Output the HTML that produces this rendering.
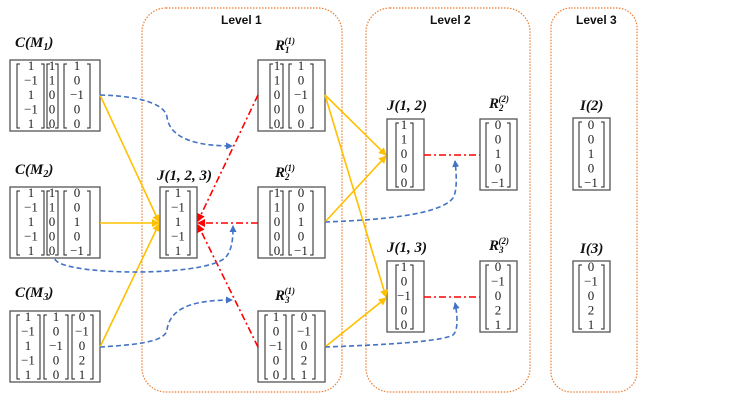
<!DOCTYPE html>
<html><head><meta charset="utf-8"><style>
html,body{margin:0;padding:0;background:#fff}
svg{display:block}
.m{font-family:"Liberation Serif",serif;font-size:13px;fill:#222;text-anchor:middle}
.lb{font-family:"Liberation Serif",serif;font-size:15px;font-weight:bold;font-style:italic;fill:#111}
.lv{font-family:"Liberation Sans",sans-serif;font-size:12px;font-weight:bold;fill:#111}
.bx{fill:#fff;stroke:#555;stroke-width:1.3}
.br{fill:none;stroke:#222;stroke-width:1}
.fr{fill:none;stroke:#ed7d31;stroke-width:1.2;stroke-dasharray:1.5 1.5}
.y{stroke:#ffc000;stroke-width:1.6;fill:none}
.r{stroke:#ff0000;stroke-width:1.6;fill:none;stroke-dasharray:7 3 2 3}
.b{stroke:#4472c4;stroke-width:1.6;fill:none;stroke-dasharray:5 3}
</style></head><body>
<svg width="734" height="413" viewBox="0 0 734 413" xmlns="http://www.w3.org/2000/svg">
<defs>
<marker id="ay" markerWidth="8" markerHeight="8" refX="7" refY="4" orient="auto" markerUnits="userSpaceOnUse"><path d="M0,0 L8,4 L0,8 z" fill="#ffc000"/></marker>
<marker id="ar" markerWidth="8" markerHeight="8" refX="7" refY="4" orient="auto" markerUnits="userSpaceOnUse"><path d="M0,0 L8,4 L0,8 z" fill="#ff0000"/></marker>
<marker id="ab" markerWidth="7" markerHeight="7" refX="6" refY="3.5" orient="auto" markerUnits="userSpaceOnUse"><path d="M0,0 L7,3.5 L0,7 z" fill="#4472c4"/></marker>
</defs>

<rect class="fr" x="142" y="8" width="200" height="384" rx="24"/>
<rect class="fr" x="366" y="8" width="164" height="384" rx="24"/>
<rect class="fr" x="551" y="8" width="86" height="384" rx="20"/>
<text class="lv" x="221" y="24">Level 1</text>
<text class="lv" x="430" y="24">Level 2</text>
<text class="lv" x="576" y="24">Level 3</text>

<text class="lb" x="15" y="47">C(M<tspan font-size="10" dy="3">1</tspan><tspan dy="-3">)</tspan></text>
<text class="lb" x="15" y="174">C(M<tspan font-size="10" dy="3">2</tspan><tspan dy="-3">)</tspan></text>
<text class="lb" x="15" y="297">C(M<tspan font-size="10" dy="3">3</tspan><tspan dy="-3">)</tspan></text>
<text class="lb" x="157" y="180">J(1, 2, 3)</text>
<text class="lb" x="275" y="50">R<tspan font-size="9" dy="3">1</tspan><tspan font-size="9" dx="-5" dy="-9">(1)</tspan></text>
<text class="lb" x="275" y="177">R<tspan font-size="9" dy="3">2</tspan><tspan font-size="9" dx="-5" dy="-9">(1)</tspan></text>
<text class="lb" x="275" y="300">R<tspan font-size="9" dy="3">3</tspan><tspan font-size="9" dx="-5" dy="-9">(1)</tspan></text>
<text class="lb" x="387" y="110">J(1, 2)</text>
<text class="lb" x="489" y="108">R<tspan font-size="9" dy="3">2</tspan><tspan font-size="9" dx="-5" dy="-9">(2)</tspan></text>
<text class="lb" x="387" y="252">J(1, 3)</text>
<text class="lb" x="489" y="250">R<tspan font-size="9" dy="3">3</tspan><tspan font-size="9" dx="-5" dy="-9">(2)</tspan></text>
<text class="lb" x="580" y="110">I(2)</text>
<text class="lb" x="580" y="253">I(3)</text>

<rect class="bx" x="10" y="60" width="90" height="71"/>
<rect class="bx" x="10" y="187" width="90" height="71"/>
<rect class="bx" x="10" y="311" width="90" height="71"/>
<rect class="bx" x="160" y="187" width="37" height="71"/>
<rect class="bx" x="258" y="60" width="67" height="71"/>
<rect class="bx" x="258" y="187" width="67" height="71"/>
<rect class="bx" x="258" y="311" width="67" height="71"/>
<rect class="bx" x="387" y="119" width="37" height="71"/>
<rect class="bx" x="480" y="119" width="37" height="71"/>
<rect class="bx" x="387" y="261" width="37" height="71"/>
<rect class="bx" x="480" y="261" width="37" height="71"/>
<rect class="bx" x="573" y="118" width="37" height="72"/>
<rect class="bx" x="573" y="261" width="37" height="71"/>

<g class="br">
<path d="M20 64H17V128H20M41 64H44V128H41M50 64H47V128H50M55 64H58V128H55M67 64H64V128H67M87 64H90V128H87"/>
<path d="M20 191H17V255H20M41 191H44V255H41M50 191H47V255H50M55 191H58V255H55M67 191H64V255H67M87 191H90V255H87"/>
<path d="M20 315H17V379H20M37 315H40V379H37M47 315H44V379H47M65 315H68V379H65M75 315H72V379H75M90 315H93V379H90"/>
<path d="M169 191H166V255H169M187 191H190V255H187"/>
<path d="M273 64H270V128H273M280 64H283V128H280M292 64H289V128H292M310 64H313V128H310"/>
<path d="M273 191H270V255H273M280 191H283V255H280M292 191H289V255H292M310 191H313V255H310"/>
<path d="M268 315H265V379H268M283 315H286V379H283M295 315H292V379H295M312 315H315V379H312"/>
<path d="M399 123H396V187H399M410 123H413V187H410"/>
<path d="M489 123H486V187H489M507 123H510V187H507"/>
<path d="M399 265H396V329H399M410 265H413V329H410"/>
<path d="M489 265H486V329H489M507 265H510V329H507"/>
<path d="M582 122H579V187H582M601 122H604V187H601"/>
<path d="M582 265H579V329H582M601 265H604V329H601"/>
</g>

<g class="m" transform="translate(0,-2)">
<text><tspan x="31" y="72">1</tspan><tspan x="31" y="86.5">−1</tspan><tspan x="31" y="101">1</tspan><tspan x="31" y="115.5">−1</tspan><tspan x="31" y="130">1</tspan></text>
<text><tspan x="52" y="72">1</tspan><tspan x="52" y="86.5">1</tspan><tspan x="52" y="101">0</tspan><tspan x="52" y="115.5">0</tspan><tspan x="52" y="130">0</tspan></text>
<text><tspan x="77" y="72">1</tspan><tspan x="77" y="86.5">0</tspan><tspan x="77" y="101">−1</tspan><tspan x="77" y="115.5">0</tspan><tspan x="77" y="130">0</tspan></text>

<text><tspan x="31" y="199">1</tspan><tspan x="31" y="213.5">−1</tspan><tspan x="31" y="228">1</tspan><tspan x="31" y="242.5">−1</tspan><tspan x="31" y="257">1</tspan></text>
<text><tspan x="52" y="199">1</tspan><tspan x="52" y="213.5">1</tspan><tspan x="52" y="228">0</tspan><tspan x="52" y="242.5">0</tspan><tspan x="52" y="257">0</tspan></text>
<text><tspan x="77" y="199">0</tspan><tspan x="77" y="213.5">0</tspan><tspan x="77" y="228">1</tspan><tspan x="77" y="242.5">0</tspan><tspan x="77" y="257">−1</tspan></text>

<text><tspan x="28" y="323">1</tspan><tspan x="28" y="337.5">−1</tspan><tspan x="28" y="352">1</tspan><tspan x="28" y="366.5">−1</tspan><tspan x="28" y="381">1</tspan></text>
<text><tspan x="56" y="323">1</tspan><tspan x="56" y="337.5">0</tspan><tspan x="56" y="352">−1</tspan><tspan x="56" y="366.5">0</tspan><tspan x="56" y="381">0</tspan></text>
<text><tspan x="82" y="323">0</tspan><tspan x="82" y="337.5">−1</tspan><tspan x="82" y="352">0</tspan><tspan x="82" y="366.5">2</tspan><tspan x="82" y="381">1</tspan></text>

<text><tspan x="178" y="199">1</tspan><tspan x="178" y="213.5">−1</tspan><tspan x="178" y="228">1</tspan><tspan x="178" y="242.5">−1</tspan><tspan x="178" y="257">1</tspan></text>

<text><tspan x="277" y="72">1</tspan><tspan x="277" y="86.5">1</tspan><tspan x="277" y="101">0</tspan><tspan x="277" y="115.5">0</tspan><tspan x="277" y="130">0</tspan></text>
<text><tspan x="301" y="72">1</tspan><tspan x="301" y="86.5">0</tspan><tspan x="301" y="101">−1</tspan><tspan x="301" y="115.5">0</tspan><tspan x="301" y="130">0</tspan></text>

<text><tspan x="277" y="199">1</tspan><tspan x="277" y="213.5">1</tspan><tspan x="277" y="228">0</tspan><tspan x="277" y="242.5">0</tspan><tspan x="277" y="257">0</tspan></text>
<text><tspan x="301" y="199">0</tspan><tspan x="301" y="213.5">0</tspan><tspan x="301" y="228">1</tspan><tspan x="301" y="242.5">0</tspan><tspan x="301" y="257">−1</tspan></text>

<text><tspan x="276" y="323">1</tspan><tspan x="276" y="337.5">0</tspan><tspan x="276" y="352">−1</tspan><tspan x="276" y="366.5">0</tspan><tspan x="276" y="381">0</tspan></text>
<text><tspan x="304" y="323">0</tspan><tspan x="304" y="337.5">−1</tspan><tspan x="304" y="352">0</tspan><tspan x="304" y="366.5">2</tspan><tspan x="304" y="381">1</tspan></text>

<text><tspan x="404" y="131">1</tspan><tspan x="404" y="145.5">1</tspan><tspan x="404" y="160">0</tspan><tspan x="404" y="174.5">0</tspan><tspan x="404" y="189">0</tspan></text>
<text><tspan x="498" y="131">0</tspan><tspan x="498" y="145.5">0</tspan><tspan x="498" y="160">1</tspan><tspan x="498" y="174.5">0</tspan><tspan x="498" y="189">−1</tspan></text>
<text><tspan x="404" y="273">1</tspan><tspan x="404" y="287.5">0</tspan><tspan x="404" y="302">−1</tspan><tspan x="404" y="316.5">0</tspan><tspan x="404" y="331">0</tspan></text>
<text><tspan x="498" y="273">0</tspan><tspan x="498" y="287.5">−1</tspan><tspan x="498" y="302">0</tspan><tspan x="498" y="316.5">2</tspan><tspan x="498" y="331">1</tspan></text>
<text><tspan x="591" y="131">0</tspan><tspan x="591" y="145.5">0</tspan><tspan x="591" y="160">1</tspan><tspan x="591" y="174.5">0</tspan><tspan x="591" y="189">−1</tspan></text>
<text><tspan x="591" y="273">0</tspan><tspan x="591" y="287.5">−1</tspan><tspan x="591" y="302">0</tspan><tspan x="591" y="316.5">2</tspan><tspan x="591" y="331">1</tspan></text>
</g>

<line class="y" x1="100" y1="95" x2="159" y2="222" marker-end="url(#ay)"/>
<line class="y" x1="100" y1="223" x2="159" y2="223" marker-end="url(#ay)"/>
<line class="y" x1="100" y1="347" x2="159" y2="224" marker-end="url(#ay)"/>
<line class="y" x1="325" y1="95" x2="386" y2="155" marker-end="url(#ay)"/>
<line class="y" x1="325" y1="95" x2="386" y2="297" marker-end="url(#ay)"/>
<line class="y" x1="325" y1="222" x2="386" y2="156" marker-end="url(#ay)"/>
<line class="y" x1="325" y1="347" x2="386" y2="298" marker-end="url(#ay)"/>

<line class="r" x1="258" y1="95" x2="198" y2="221" marker-end="url(#ar)"/>
<line class="r" x1="258" y1="223" x2="198" y2="223" marker-end="url(#ar)"/>
<line class="r" x1="258" y1="347" x2="198" y2="225" marker-end="url(#ar)"/>
<line class="r" x1="424" y1="155" x2="480" y2="155"/>
<line class="r" x1="424" y1="297" x2="480" y2="297"/>

<path class="b" d="M100 95 C140 96 165 104 167 117 C170 140 200 146 232 146" marker-end="url(#ab)"/>
<path class="b" d="M55 259 C60 275 200 278 225 258 C233 250 233 235 233 226" marker-end="url(#ab)"/>
<path class="b" d="M100 347 C130 345 165 343 167 330 C170 305 200 300 232 300" marker-end="url(#ab)"/>
<path class="b" d="M325 222 C380 220 440 215 453 198 C458 190 456 170 455 161" marker-end="url(#ab)"/>
<path class="b" d="M325 347 C380 345 440 342 453 335 C459 330 457 312 455 303" marker-end="url(#ab)"/>
</svg>
</body></html>
